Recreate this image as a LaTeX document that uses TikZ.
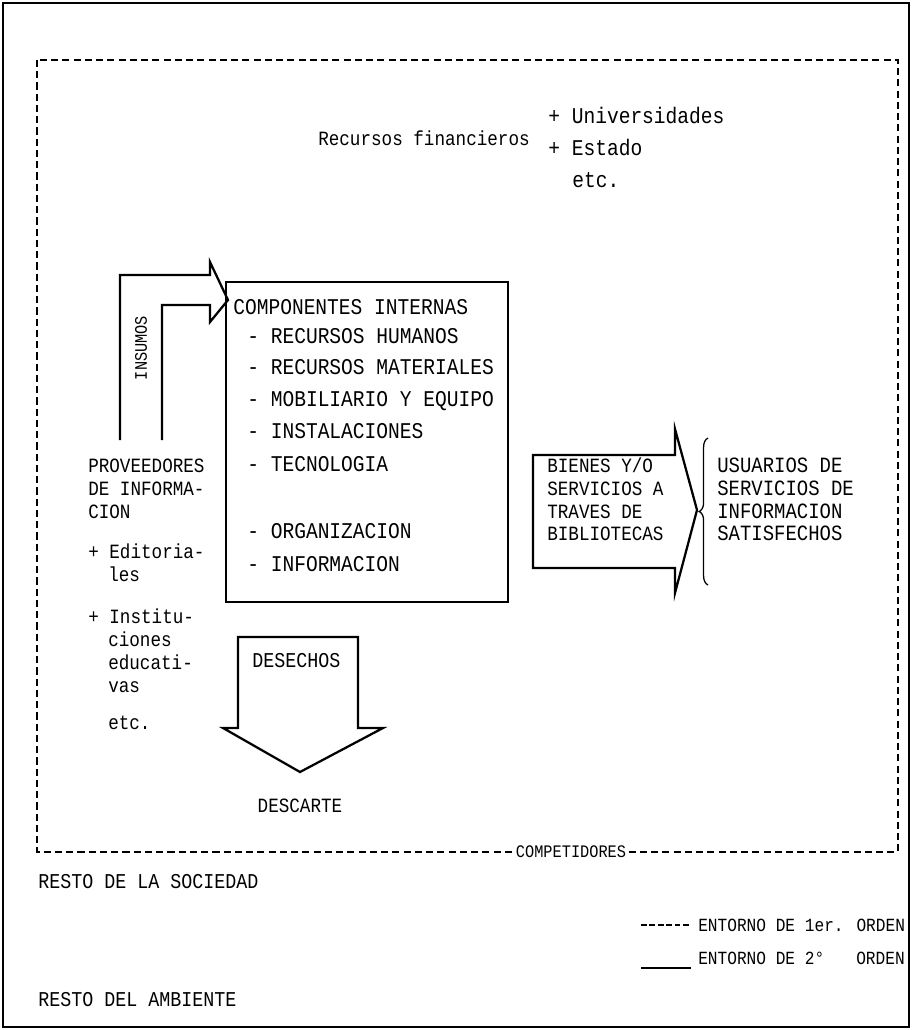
\documentclass[tikz,border=0pt]{standalone}
\usepackage{fontspec}
\setmainfont[FakeStretch=0.87]{Liberation Mono}
\usetikzlibrary{positioning,decorations.pathreplacing}

\tikzset{
  txt/.style={anchor=base west, inner sep=0pt, font=\fontsize{15}{18}\selectfont},
  caps/.style={txt, font=\fontsize{16}{19}\selectfont},
  small/.style={txt, font=\fontsize{13.2}{16}\selectfont},
  flow/.style={line width=1.6pt, line join=miter},
  envone/.style={line width=0.9pt, dash pattern=on 5pt off 3pt},
  envtwo/.style={line width=0.9pt},
}

\begin{document}
\begin{tikzpicture}[x=0.025cm,y=-0.025cm]
    \useasboundingbox (0,0) rectangle (912,1030);
    % entornos
    \draw[envtwo] (3,3) rectangle (909,1027);
    \draw[envone] (37,60) rectangle (898,852);

    % financieros
    \node[txt, font=\fontsize{14.4}{17}\selectfont] (recfin) at (318,146) {Recursos financieros};
    \node[txt, font=\fontsize{16}{19}\selectfont] (univ) at (548,124) {+ Universidades};
    \node[txt, font=\fontsize{16}{19}\selectfont] (estado) at (548,156) {+ Estado};
    \node[txt, font=\fontsize{16}{19}\selectfont] (etcfin) at (572,188) {etc.};

    % insumos
    \draw[flow] (120,440) -- (120,275) -- (210,275) -- (210,262) -- (228,300)
      -- (210,322) -- (210,305) -- (162,305) -- (162,440);
    \node[rotate=90, inner sep=0pt, font=\fontsize{12.5}{15}\selectfont] (insumos) at (141,348) {INSUMOS};

    % componentes internas
    \draw[envtwo] (226,282) rectangle (508,602);
    \node[caps] (comp-0) at (233,314) {COMPONENTES INTERNAS};
    \foreach \i/\y/\t in {1/343/RECURSOS HUMANOS, 2/374/RECURSOS MATERIALES,
        3/406/MOBILIARIO Y EQUIPO, 4/438/INSTALACIONES, 5/471/TECNOLOGIA,
        6/538/ORGANIZACION, 7/571/INFORMACION} {
      \node[caps] (comp-\i) at (247,\y) {- \t};
    }

    % proveedores
    \foreach \i/\x/\y/\t in {1/88/472/PROVEEDORES, 2/88/495/DE INFORMA-, 3/88/518/CION,
        4/88/558/+ Editoria-, 5/108/581/les, 6/88/623/+ Institu-, 7/108/646/ciones,
        8/108/669/educati-, 9/108/692/vas, 10/108/729/etc.} {
      \node[txt, font=\fontsize{14.4}{17}\selectfont] (prov-\i) at (\x,\y) {\t};
    }

    % bienes y servicios
    \draw[flow] (533,455) -- (675,455) -- (675,429) -- (697,510) -- (675,593)
      -- (675,568) -- (533,568) -- cycle;
    \foreach \i/\y/\t in {1/472/{BIENES Y/O}, 2/495/SERVICIOS A, 3/518/TRAVES DE,
        4/540/BIBLIOTECAS} {
      \node[txt, font=\fontsize{14.4}{17}\selectfont] (bien-\i) at (547,\y) {\t};
    }
    \draw[envtwo, decorate, decoration={brace, amplitude=0.22cm}] (708,585) -- (708,438);
    \foreach \i/\y/\t in {1/472/USUARIOS DE, 2/495/SERVICIOS DE, 3/518/INFORMACION,
        4/540/SATISFECHOS} {
      \node[txt, font=\fontsize{15.5}{18}\selectfont] (usu-\i) at (717,\y) {\t};
    }

    % desechos
    \draw[flow] (238,728) -- (238,637) -- (358,637) -- (358,728) -- (383,728)
      -- (300,772) -- (223,728) -- cycle;
    \node[txt, font=\fontsize{15}{18}\selectfont] (desechos) at (252,667) {DESECHOS};
    \node[inner sep=0pt, anchor=base, font=\fontsize{14.4}{17}\selectfont] (descarte) at (300,812) {DESCARTE};
    \node[fill=white, inner sep=1pt, font=\fontsize{12.5}{15}\selectfont] (compet) at (571,852) {COMPETIDORES};

    % resto
    \node[txt] (sociedad) at (38,888) {RESTO DE LA SOCIEDAD};
    \node[txt] (ambiente) at (38,1006) {RESTO DEL AMBIENTE};

    % leyenda
    \draw[envone, line width=0.8pt, dash pattern=on 4pt off 2pt] (641,925) -- (691,925);
    \node[small] (ley1) at (698,931) {ENTORNO DE 1er. ORDEN};
    \draw[envtwo] (641,968) -- (691,968);
    \node[small] (ley2) at (698,964) {ENTORNO DE 2°\hspace{0.8cm}ORDEN};
\end{tikzpicture}
\end{document}
